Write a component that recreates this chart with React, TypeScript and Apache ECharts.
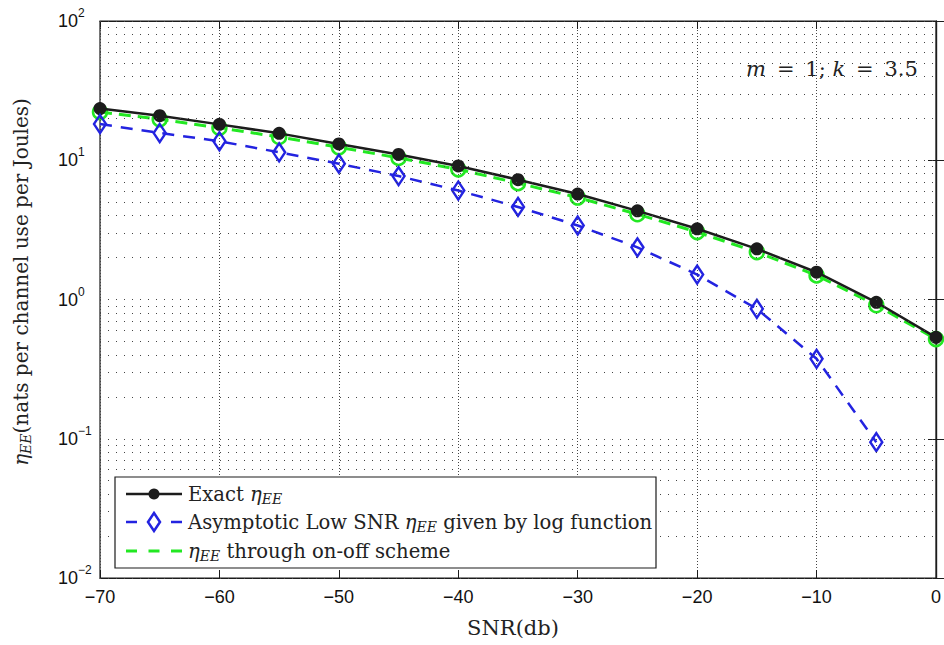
import React, { useEffect, useRef } from "react";
import * as echarts from "echarts";

// ---- data ----
const snrDb = [-70, -65, -60, -55, -50, -45, -40, -35, -30, -25, -20, -15, -10, -5, 0];
const exactEE = [23.5, 20.9, 18.1, 15.6, 13.1, 11.0, 9.1, 7.25, 5.72, 4.33, 3.22, 2.31, 1.57, 0.955, 0.535];
const asymSnrDb = [-70, -65, -60, -55, -50, -45, -40, -35, -30, -25, -20, -15, -10, -5];
const asymEE = [18.2, 15.7, 13.7, 11.4, 9.45, 7.7, 6.06, 4.62, 3.4, 2.37, 1.51, 0.857, 0.375, 0.0945];
const onOffEE = [22.2, 19.7, 17.1, 14.7, 12.4, 10.4, 8.6, 6.85, 5.4, 4.1, 3.05, 2.19, 1.49, 0.91, 0.52];

const xMin = -70;
const xMax = 0;
const xStep = 10;
const yMin = 0.01;
const yMax = 100;
const yDecades = [0.01, 0.1, 1, 10];
const gridMantissas = [1, 2, 3, 4, 5, 6, 7, 8, 9];

const xTitle = "SNR(db)";
const yTitle = "{eta|η}{sub|EE}{t|(nats per channel use per Joules)}";
const legendRows = [
  "{t|Exact }{eta|η}{sub|EE}",
  "{t|Asymptotic Low SNR }{eta|η}{sub|EE}{t| given by log function}",
  "{eta|η}{sub|EE}{t| through on-off scheme}",
];
const annotation = "{i|m}{t|\u2009 = \u2009}{t|1; }{i|k}{t|\u2009 = \u2009}{t|3.5}";

const SERIF = "'DejaVu Serif', 'Liberation Serif', serif";
const SANS = "'Liberation Sans', Arial, sans-serif";
const BLACK = "#1c1c1c";
const BLUE = "#2323e0";
const GREEN = "#22e822";

export default function App() {
  const ref = useRef<HTMLDivElement>(null);

  useEffect(() => {
    if (!ref.current) return;
    const chart = echarts.init(ref.current, undefined, { renderer: "svg" });

    const gridValues: number[] = [];
    yDecades.forEach((d) => gridMantissas.forEach((m) => gridValues.push(m * d)));
    gridValues.push(yMax);

    const minusFmt = (v: number) => (v < 0 ? "\u2212" + Math.abs(v) : String(v));

    const mkRich = (fs: number) => ({
      t: { fontFamily: SERIF, fontSize: fs, fill: "#222", color: "#222" },
      eta: { fontFamily: SERIF, fontSize: fs, fontStyle: "italic", fill: "#222", color: "#222" },
      sub: {
        fontFamily: SERIF,
        fontSize: Math.round(fs * 0.7),
        fontStyle: "italic",
        fill: "#222",
        color: "#222",
        padding: [Math.round(fs * 0.45), 0, 0, 0],
      },
      i: { fontFamily: SERIF, fontSize: fs, fontStyle: "italic", fill: "#222", color: "#222" },
    });

    const legendX = 115, legendY = 477, legendW = 541, legendH = 91;
    const rowY = [494, 522, 551];
    const lx1 = 126, lx2 = 182, lmid = 154, tx = 188;

    const option: any = {
      animation: false,
      backgroundColor: "#fff",
      grid: {
        left: 100,
        right: 1,
        top: 21,
        bottom: 67,
        show: true,
        borderColor: BLACK,
        borderWidth: 1.2,
        backgroundColor: "transparent",
      },
      xAxis: [
        {
          type: "value",
          min: xMin,
          max: xMax,
          interval: xStep,
          position: "bottom",
          axisLine: { show: true, lineStyle: { color: BLACK, width: 1.2 } },
          axisTick: { show: true, inside: true, length: 8, lineStyle: { color: BLACK } },
          axisLabel: { fontFamily: SANS, fontSize: 18, color: "#111", margin: 10, formatter: minusFmt },
          splitLine: { show: true, lineStyle: { color: "#444", width: 1, type: [1, 2] } },
        },
        {
          type: "value",
          min: xMin,
          max: xMax,
          interval: xStep,
          position: "top",
          axisLine: { show: true, lineStyle: { color: BLACK, width: 1.2 } },
          axisTick: { show: true, inside: true, length: 8, lineStyle: { color: BLACK } },
          axisLabel: { show: false },
          splitLine: { show: false },
        },
      ],
      yAxis: [
        {
          type: "log",
          logBase: 10,
          min: yMin,
          max: yMax,
          position: "left",
          axisLine: { show: true, lineStyle: { color: BLACK, width: 1.2 } },
          axisTick: { show: true, inside: true, length: 8, lineStyle: { color: BLACK } },
          axisLabel: {
            align: "left",
            margin: 42,
            formatter: (v: number) => {
              const e = Math.round(Math.log10(v));
              return "{b|10}{s|" + (e < 0 ? "\u2212" + -e : String(e)) + "}";
            },
            rich: {
              b: { fontFamily: SANS, fontSize: 18, color: "#111" },
              s: { fontFamily: SANS, fontSize: 12, color: "#111", padding: [0, 0, 16, 0] },
            },
          },
          splitLine: { show: false },
        },
        {
          type: "log",
          logBase: 10,
          min: yMin,
          max: yMax,
          position: "right",
          axisLine: { show: true, lineStyle: { color: BLACK, width: 1.2 } },
          axisTick: { show: true, inside: true, length: 8, lineStyle: { color: BLACK } },
          axisLabel: { show: false },
          splitLine: { show: false },
        },
      ],
      series: [
        {
          name: "grid",
          type: "line",
          data: [],
          z: 1,
          markLine: {
            silent: true,
            symbol: ["none", "none"],
            label: { show: false },
            lineStyle: { color: "#444", width: 1, type: [1, 7] },
            data: gridValues.map((v) => ({ yAxis: v })),
          },
        },
        {
          name: "onoff",
          type: "line",
          z: 2,
          data: snrDb.map((x, i) => [x, onOffEE[i]]),
          lineStyle: { color: GREEN, width: 3, type: [12, 7] },
          symbol: "circle",
          symbolSize: 14,
          itemStyle: { color: "rgba(0,0,0,0)", borderColor: GREEN, borderWidth: 2.5 },
        },
        {
          name: "exact",
          type: "line",
          z: 3,
          data: snrDb.map((x, i) => [x, exactEE[i]]),
          lineStyle: { color: BLACK, width: 2.5 },
          symbol: "circle",
          symbolSize: 13,
          itemStyle: { color: BLACK },
        },
        {
          name: "asym",
          type: "line",
          z: 4,
          data: asymSnrDb.map((x, i) => [x, asymEE[i]]),
          lineStyle: { color: BLUE, width: 2.5, type: [12, 9] },
          symbol: "diamond",
          symbolSize: [12, 18],
          itemStyle: { color: "rgba(0,0,0,0)", borderColor: BLUE, borderWidth: 2.5 },
        },
      ],
      graphic: [
        {
          type: "text",
          x: 513,
          y: 628,
          style: { text: xTitle, fontFamily: SERIF, fontSize: 21, fill: "#222", align: "center", verticalAlign: "middle" },
        },
        {
          type: "text",
          x: 21,
          y: 282,
          rotation: Math.PI / 2,
          style: {
            text: yTitle,
            rich: mkRich(20),
            align: "center",
            verticalAlign: "middle",
          },
        },
        {
          type: "text",
          x: 832,
          y: 69,
          style: {
            text: annotation,
            rich: mkRich(21),
            align: "center",
            verticalAlign: "middle",
          },
        },
        {
          type: "rect",
          z: 100,
          shape: { x: legendX, y: legendY, width: legendW, height: legendH },
          style: { fill: "#fff", stroke: BLACK, lineWidth: 1.2 },
        },
        // legend row 1
        { type: "line", z: 101, shape: { x1: lx1, y1: rowY[0], x2: lx2, y2: rowY[0] }, style: { stroke: BLACK, lineWidth: 2.5 } },
        { type: "circle", z: 102, shape: { cx: lmid, cy: rowY[0], r: 5.5 }, style: { fill: BLACK } },
        // legend row 2
        { type: "line", z: 101, shape: { x1: lx1, y1: rowY[1], x2: lx2, y2: rowY[1] }, style: { stroke: BLUE, lineWidth: 2.5, lineDash: [11, 34] } },
        {
          type: "polygon",
          z: 102,
          shape: { points: [[lmid, rowY[1] - 9], [lmid + 6, rowY[1]], [lmid, rowY[1] + 9], [lmid - 6, rowY[1]]] },
          style: { fill: "#fff", stroke: BLUE, lineWidth: 2.5 },
        },
        // legend row 3
        { type: "line", z: 101, shape: { x1: lx1, y1: rowY[2], x2: lx2, y2: rowY[2] }, style: { stroke: GREEN, lineWidth: 3, lineDash: [11, 11.5] } },
        ...legendRows.map((txt, i) => ({
          type: "text",
          z: 101,
          x: tx,
          y: rowY[i],
          style: {
            text: txt,
            rich: mkRich(19.6),
            align: "left",
            verticalAlign: "middle",
          },
        })),
      ],
    };

    chart.setOption(option);
    return () => chart.dispose();
  }, []);

  return (
    <div
      ref={ref}
      style={{ position: "absolute", left: 0, top: 0, width: 944, height: 645, background: "#fff" }}
    />
  );
}
